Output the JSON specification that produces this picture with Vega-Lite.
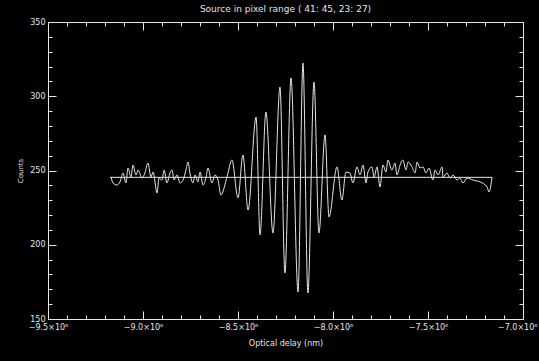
{
  "$schema": "https://vega.github.io/schema/vega-lite/v6.json",
  "width": 475,
  "height": 297,
  "autosize": {"type": "none"},
  "padding": {"left": 48, "top": 22, "right": 16, "bottom": 42},
  "background": "#000000",
  "config": {"view": {"stroke": null}, "font": "DejaVu Sans"},
  "title": {"text": "Source in pixel range ( 41: 45, 23: 27)", "color": "#e6e6e6", "fontSize": 9, "fontWeight": "normal", "offset": 4, "font": "DejaVu Sans"},
  "datasets": {
    "signal": [
      {"delay": -9168000, "counts": 245.6}, {"delay": -9158000, "counts": 241.6}, {"delay": -9137000, "counts": 240.2},
      {"delay": -9121000, "counts": 242.3}, {"delay": -9105000, "counts": 248.3}, {"delay": -9090000, "counts": 241.6},
      {"delay": -9079000, "counts": 251.7}, {"delay": -9063000, "counts": 245.6}, {"delay": -9053000, "counts": 253.7},
      {"delay": -9037000, "counts": 247.0}, {"delay": -9026000, "counts": 250.3}, {"delay": -9005000, "counts": 244.9},
      {"delay": -8990000, "counts": 248.3}, {"delay": -8974000, "counts": 255.0}, {"delay": -8958000, "counts": 245.6},
      {"delay": -8947000, "counts": 249.0}, {"delay": -8926000, "counts": 234.8}, {"delay": -8916000, "counts": 244.9},
      {"delay": -8900000, "counts": 243.6}, {"delay": -8889000, "counts": 250.3}, {"delay": -8874000, "counts": 241.6},
      {"delay": -8858000, "counts": 248.3}, {"delay": -8847000, "counts": 250.3}, {"delay": -8837000, "counts": 243.6},
      {"delay": -8821000, "counts": 247.0}, {"delay": -8805000, "counts": 241.6}, {"delay": -8789000, "counts": 243.6},
      {"delay": -8774000, "counts": 250.3}, {"delay": -8763000, "counts": 255.7}, {"delay": -8753000, "counts": 248.3},
      {"delay": -8737000, "counts": 241.6}, {"delay": -8726000, "counts": 247.0}, {"delay": -8711000, "counts": 242.3},
      {"delay": -8700000, "counts": 249.0}, {"delay": -8684000, "counts": 240.2}, {"delay": -8668000, "counts": 245.6},
      {"delay": -8658000, "counts": 251.7}, {"delay": -8637000, "counts": 241.6}, {"delay": -8621000, "counts": 247.0},
      {"delay": -8605000, "counts": 243.6}, {"delay": -8590000, "counts": 233.5}, {"delay": -8558000, "counts": 245.6},
      {"delay": -8532000, "counts": 257.1}, {"delay": -8500000, "counts": 231.5}, {"delay": -8474000, "counts": 260.4},
      {"delay": -8447000, "counts": 223.4}, {"delay": -8405000, "counts": 286.0}, {"delay": -8384000, "counts": 206.6},
      {"delay": -8353000, "counts": 289.4}, {"delay": -8316000, "counts": 207.9}, {"delay": -8279000, "counts": 306.2},
      {"delay": -8253000, "counts": 181.0}, {"delay": -8221000, "counts": 312.3}, {"delay": -8184000, "counts": 168.2},
      {"delay": -8158000, "counts": 322.4}, {"delay": -8132000, "counts": 167.5}, {"delay": -8100000, "counts": 309.6},
      {"delay": -8074000, "counts": 207.9}, {"delay": -8042000, "counts": 274.0}, {"delay": -8021000, "counts": 218.7},
      {"delay": -7979000, "counts": 252.4}, {"delay": -7953000, "counts": 230.1}, {"delay": -7932000, "counts": 249.0},
      {"delay": -7911000, "counts": 248.3}, {"delay": -7895000, "counts": 241.6}, {"delay": -7874000, "counts": 252.4},
      {"delay": -7858000, "counts": 247.0}, {"delay": -7842000, "counts": 253.7}, {"delay": -7826000, "counts": 241.6},
      {"delay": -7816000, "counts": 249.0}, {"delay": -7795000, "counts": 252.4}, {"delay": -7784000, "counts": 245.6},
      {"delay": -7768000, "counts": 252.4}, {"delay": -7753000, "counts": 238.9}, {"delay": -7737000, "counts": 253.7},
      {"delay": -7721000, "counts": 249.0}, {"delay": -7711000, "counts": 257.1}, {"delay": -7690000, "counts": 250.3},
      {"delay": -7674000, "counts": 255.0}, {"delay": -7663000, "counts": 247.0}, {"delay": -7647000, "counts": 253.7},
      {"delay": -7632000, "counts": 257.1}, {"delay": -7616000, "counts": 250.3}, {"delay": -7605000, "counts": 255.7},
      {"delay": -7584000, "counts": 252.4}, {"delay": -7568000, "counts": 248.3}, {"delay": -7558000, "counts": 255.7},
      {"delay": -7542000, "counts": 251.7}, {"delay": -7526000, "counts": 252.4}, {"delay": -7511000, "counts": 248.3},
      {"delay": -7495000, "counts": 251.7}, {"delay": -7474000, "counts": 243.6}, {"delay": -7463000, "counts": 250.3},
      {"delay": -7447000, "counts": 247.0}, {"delay": -7426000, "counts": 252.4}, {"delay": -7421000, "counts": 245.6},
      {"delay": -7400000, "counts": 248.3}, {"delay": -7384000, "counts": 244.9}, {"delay": -7368000, "counts": 247.0},
      {"delay": -7347000, "counts": 243.6}, {"delay": -7332000, "counts": 244.9}, {"delay": -7316000, "counts": 241.6},
      {"delay": -7295000, "counts": 244.9}, {"delay": -7263000, "counts": 243.6}, {"delay": -7226000, "counts": 242.3},
      {"delay": -7189000, "counts": 238.9}, {"delay": -7179000, "counts": 235.5}, {"delay": -7163000, "counts": 245.6}
    ],
    "mean": [
      {"delay": -9174000, "counts": 245.4},
      {"delay": -7163000, "counts": 245.4}
    ]
  },
  "layer": [
    {
      "data": {"name": "signal"},
      "mark": {"type": "line", "color": "#e6e6e6", "strokeWidth": 1, "interpolate": "monotone"},
      "encoding": {
        "x": {
          "field": "delay", "type": "quantitative",
          "scale": {"domain": [-9500000, -7000000], "nice": false, "zero": false},
          "axis": {
            "orient": "bottom",
            "values": [-9500000, -9400000, -9300000, -9200000, -9100000, -9000000, -8900000, -8800000, -8700000, -8600000, -8500000, -8400000, -8300000, -8200000, -8100000, -8000000, -7900000, -7800000, -7700000, -7600000, -7500000, -7400000, -7300000, -7200000, -7100000, -7000000],
            "tickSize": {"condition": {"test": "abs(round(datum.value/100000)) % 5 == 0", "value": -8}, "value": -4},
            "labelExpr": "abs(round(datum.value/100000)) % 5 == 0 ? format(datum.value/1e6, '.1f') + '×10⁶' : ''",
            "labelAlign": {"condition": {"test": "datum.value == -7000000", "value": "right"}, "value": "center"},
            "labelOffset": {"condition": {"test": "datum.value == -7000000", "value": 14}, "value": 0},
            "labelPadding": 12, "labelFlush": false, "labelOverlap": false, "labelBound": false,
            "labelFontSize": 8, "labelColor": "#e6e6e6",
            "domainColor": "#e6e6e6", "tickColor": "#e6e6e6", "grid": false,
            "title": "Optical delay (nm)", "titleColor": "#e6e6e6", "titleFontSize": 8, "titleFontWeight": "normal", "titlePadding": 4
          }
        },
        "y": {
          "field": "counts", "type": "quantitative",
          "scale": {"domain": [150, 350], "nice": false, "zero": false},
          "axis": {
            "orient": "left",
            "values": [150, 160, 170, 180, 190, 200, 210, 220, 230, 240, 250, 260, 270, 280, 290, 300, 310, 320, 330, 340, 350],
            "tickSize": {"condition": {"test": "datum.value % 50 == 0", "value": -8}, "value": -4},
            "labelExpr": "datum.value % 50 == 0 ? format(datum.value, 'd') : ''",
            "labelPadding": 11, "labelFlush": false, "labelOverlap": false, "labelBound": false,
            "labelFontSize": 8, "labelColor": "#e6e6e6",
            "domainColor": "#e6e6e6", "tickColor": "#e6e6e6", "grid": false,
            "title": "Counts", "titleColor": "#e6e6e6", "titleFontSize": 7, "titleFontWeight": "normal", "titlePadding": 6
          }
        }
      }
    },
    {
      "data": {"name": "mean"},
      "mark": {"type": "line", "color": "#e6e6e6", "strokeWidth": 1},
      "encoding": {
        "x": {
          "field": "delay", "type": "quantitative",
          "axis": {
            "orient": "top",
            "values": [-9500000, -9400000, -9300000, -9200000, -9100000, -9000000, -8900000, -8800000, -8700000, -8600000, -8500000, -8400000, -8300000, -8200000, -8100000, -8000000, -7900000, -7800000, -7700000, -7600000, -7500000, -7400000, -7300000, -7200000, -7100000, -7000000],
            "tickSize": {"condition": {"test": "abs(round(datum.value/100000)) % 5 == 0", "value": -8}, "value": -4},
            "labels": false, "domainColor": "#e6e6e6", "tickColor": "#e6e6e6", "grid": false, "title": null
          }
        },
        "y": {
          "field": "counts", "type": "quantitative",
          "axis": {
            "orient": "right",
            "values": [150, 160, 170, 180, 190, 200, 210, 220, 230, 240, 250, 260, 270, 280, 290, 300, 310, 320, 330, 340, 350],
            "tickSize": {"condition": {"test": "datum.value % 50 == 0", "value": -8}, "value": -4},
            "labels": false, "domainColor": "#e6e6e6", "tickColor": "#e6e6e6", "grid": false, "title": null
          }
        }
      }
    }
  ],
  "resolve": {"axis": {"x": "independent", "y": "independent"}}
}
